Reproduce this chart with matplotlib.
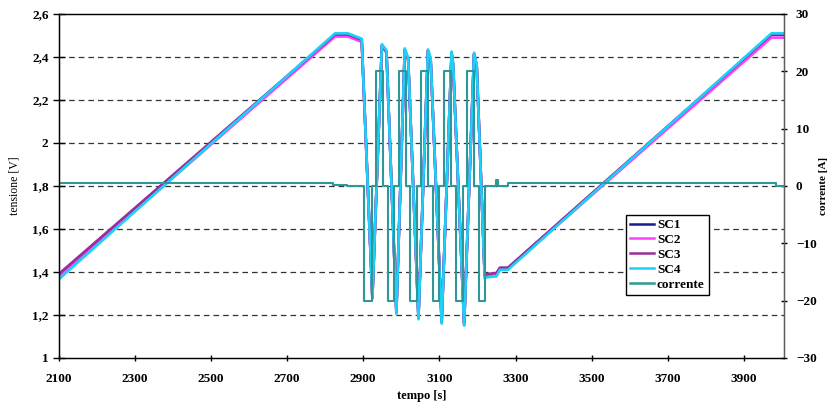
"""Supercapacitor voltages and current over a charge / cycling / charge run."""

import matplotlib

matplotlib.use("Agg")
import matplotlib.pyplot as plt
from matplotlib.ticker import FuncFormatter, MultipleLocator

# time stamps for the voltage traces [s]
volt_t = [2100, 2826, 2860, 2896, 2924, 2949, 2961, 2987, 3009, 3018, 3045, 3070, 3077,
          3106, 3132, 3136, 3165, 3191, 3198, 3219, 3224, 3250, 3259, 3280, 3972, 4005]

sc1 = [1.385, 2.503, 2.503, 2.478, 1.280, 2.452, 2.422, 1.212, 2.432, 2.388, 1.188, 2.428, 2.388,
       1.168, 2.418, 2.363, 1.158, 2.413, 2.358, 1.383, 1.388, 1.393, 1.418, 1.418, 2.503, 2.503]
sc2 = [1.375, 2.495, 2.495, 2.470, 1.280, 2.450, 2.420, 1.210, 2.430, 2.385, 1.185, 2.425, 2.385,
       1.165, 2.415, 2.360, 1.155, 2.410, 2.355, 1.380, 1.385, 1.390, 1.415, 1.415, 2.490, 2.490]
sc3 = [1.390, 2.505, 2.505, 2.480, 1.285, 2.455, 2.425, 1.215, 2.435, 2.390, 1.190, 2.430, 2.390,
       1.170, 2.420, 2.365, 1.160, 2.415, 2.360, 1.385, 1.390, 1.395, 1.420, 1.420, 2.505, 2.505]
sc4 = [1.365, 2.510, 2.510, 2.485, 1.275, 2.460, 2.430, 1.205, 2.440, 2.395, 1.180, 2.435, 2.395,
       1.160, 2.425, 2.370, 1.150, 2.420, 2.365, 1.370, 1.375, 1.380, 1.410, 1.410, 2.510, 2.510]

# current steps: each value holds from its time stamp to the next one
cur_t = [2100, 2821, 2831, 2858, 2902, 2922, 2933, 2951, 2964, 2981, 2994, 3011, 3022, 3040,
         3053, 3070, 3084, 3099, 3112, 3130, 3143, 3161, 3173, 3190, 3204, 3219, 3248, 3254,
         3280, 3983, 4005]
cur_a = [0.5, 0.15, 0.1, 0.0, -20, 0, 20, 0, -20, 0, 20, 0, -20, 0,
         20, 0, -20, 0, 20, 0, -20, 0, 20, 0, -20, 0, 1.0, 0,
         0.45, 0.0, 0.0]

x_ticks = [2100, 2300, 2500, 2700, 2900, 3100, 3300, 3500, 3700, 3900]

SERIES = [
    ("SC1", sc1, "#1c1c8a"),
    ("SC2", sc2, "#ff40ff"),
    ("SC3", sc3, "#9a2f9a"),
    ("SC4", sc4, "#1ad2f7"),
]
CURRENT_COLOR = "#2e9898"
SERIF = "Liberation Serif"


def _comma(value: float, _pos: int) -> str:
    return f"{value:g}".replace(".", ",")


fig = plt.figure(figsize=(8.30, 4.03), dpi=100)
ax = fig.add_axes([0.0706, 0.1117, 0.8740, 0.8536])
ax2 = ax.twinx()

handles = []
for name, values, color in SERIES:
    (line,) = ax.plot(volt_t, values, color=color, linewidth=1.9, label=name)
    handles.append(line)

(cur_line,) = ax2.step(cur_t, cur_a, where="post", color=CURRENT_COLOR, linewidth=1.5,
                       label="corrente")
handles.append(cur_line)

ax.set_xlim(2100, 4005)
ax.set_ylim(1, 2.6)
ax2.set_ylim(-30, 30)
ax.set_xticks(x_ticks)
ax.yaxis.set_major_locator(MultipleLocator(0.2))
ax.yaxis.set_major_formatter(FuncFormatter(_comma))
ax2.yaxis.set_major_locator(MultipleLocator(10))

for level in [1.2, 1.4, 1.6, 1.8, 2.0, 2.2, 2.4]:
    ax.axhline(level, color="#333333", linewidth=0.9, dashes=(4.5, 3.2), zorder=0)

for lab in ax.get_xticklabels() + ax.get_yticklabels() + ax2.get_yticklabels():
    lab.set_fontfamily(SERIF)
    lab.set_fontweight("bold")
    lab.set_fontsize(9.5)

ax.tick_params(axis="y", direction="inout", length=8.5, width=1, pad=3, colors="black")
ax.tick_params(axis="x", direction="inout", length=5, width=1, pad=8, colors="black")
ax2.tick_params(axis="y", direction="inout", length=5, width=1, pad=6, colors="black")

ax.spines["left"].set_color("black")
for side in ["bottom", "top"]:
    ax.spines[side].set_color("#707070")
ax2.spines["right"].set_color("#606060")
for spine in ax2.spines.values():
    spine.set_linewidth(1)

ax.set_xlabel("tempo [s]", fontfamily=SERIF, fontweight="bold", fontsize=9, labelpad=4)
ax.set_ylabel("tensione [V]", fontfamily=SERIF, fontsize=8.5, labelpad=8)
ax2.set_ylabel("corrente [A]", fontfamily=SERIF, fontweight="bold", fontsize=8, rotation=90,
               labelpad=2)

legend = fig.legend(
    handles=handles,
    loc="upper left",
    bbox_to_anchor=(0.754, 0.4665),
    bbox_transform=fig.transFigure,
    borderaxespad=0,
    frameon=True,
    fancybox=False,
    framealpha=1,
    edgecolor="black",
    prop={"family": SERIF, "weight": "bold", "size": 9.5},
    handlelength=1.8,
    handletextpad=0.25,
    labelspacing=0.2,
    borderpad=0.3,
)
legend.get_frame().set_linewidth(1)
for lh in legend.get_lines():
    lh.set_linewidth(1.8)

fig.savefig("out.png", dpi=100)
